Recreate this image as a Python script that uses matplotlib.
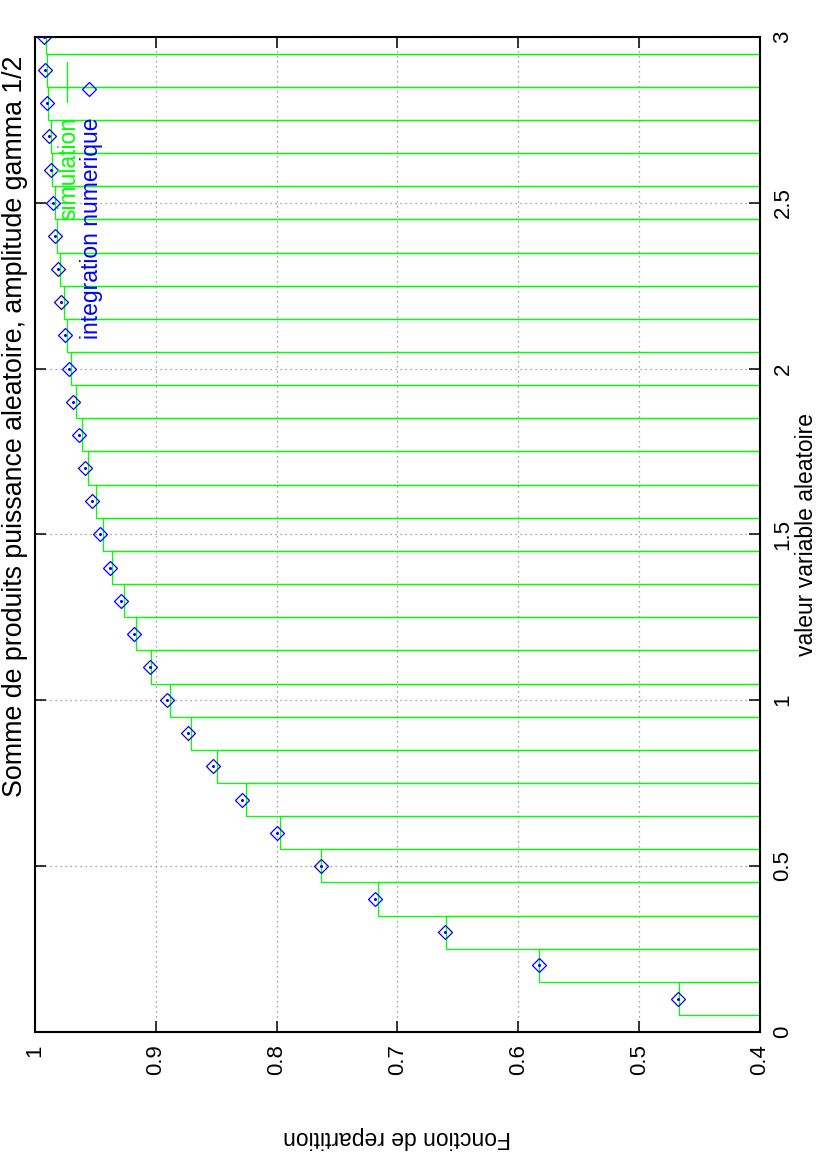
import matplotlib
matplotlib.use("Agg")
import matplotlib.pyplot as plt
import numpy as np

# valeurs de la variable (centres des boites)
x_vals = [0.1, 0.2, 0.3, 0.4, 0.5, 0.6, 0.7, 0.8, 0.9, 1.0,
          1.1, 1.2, 1.3, 1.4, 1.5, 1.6, 1.7, 1.8, 1.9, 2.0,
          2.1, 2.2, 2.3, 2.4, 2.5, 2.6, 2.7, 2.8, 2.9, 3.0]

# fonction de repartition simulee (boites)
simulation = [0.467, 0.5825, 0.660, 0.7163, 0.763, 0.7975, 0.8256, 0.8496, 0.8706, 0.8885,
              0.9042, 0.9161, 0.9263, 0.936, 0.9434, 0.9498, 0.9564, 0.9608, 0.966, 0.970,
              0.9738, 0.9762, 0.9796, 0.9815, 0.9837, 0.9857, 0.987, 0.989, 0.9898, 0.9909]

# integration numerique (losanges)
integration = [0.468, 0.583, 0.661, 0.7185, 0.763, 0.7997, 0.829, 0.853, 0.8736, 0.891,
               0.9044, 0.9178, 0.9288, 0.9379, 0.946, 0.9526, 0.9583, 0.9638, 0.9683, 0.9721,
               0.9754, 0.9785, 0.981, 0.9837, 0.9854, 0.987, 0.9884, 0.990, 0.9917, 0.9925]

x_ticks = [0, 0.5, 1, 1.5, 2, 2.5, 3]
x_ticklabels = ["0", "0.5", "1", "1.5", "2", "2.5", "3"]
f_ticks = [1, 0.9, 0.8, 0.7, 0.6, 0.5, 0.4]
f_ticklabels = ["1", "0.9", "0.8", "0.7", "0.6", "0.5", "0.4"]

GREEN = "#00ff00"
BLUE = "#0000ff"
FS = 16

plt.rcParams['font.family'] = ['Liberation Sans', 'DejaVu Sans']

fig = plt.figure(figsize=(8.17, 11.68), dpi=100)
# page gnuplot tournee de 90 degres : F en horizontal (inverse), x en vertical
ax = fig.add_axes([0.0428, 0.1167, 0.8874, 0.8516])

base = 0.4
ax.barh(x_vals, np.array(simulation) - base, left=base, height=0.1,
        fill=False, edgecolor=GREEN, linewidth=0.9, zorder=2)
ax.plot(integration, x_vals, linestyle="none", marker="D", markersize=6.8,
        markerfacecolor="none", markeredgecolor=BLUE, markeredgewidth=0.9, zorder=3)
ax.plot(integration, x_vals, linestyle="none", marker="o", markersize=1.2,
        color=BLUE, zorder=3)

ax.set_xlim(1, 0.4)
ax.set_ylim(0, 3)

ax.set_xticks(f_ticks)
ax.set_xticklabels(f_ticklabels, rotation=90, fontsize=FS)
ax.set_yticks(x_ticks)
ax.set_yticklabels(x_ticklabels, rotation=90, va="center", fontsize=FS)
ax.yaxis.tick_right()
ax.tick_params(direction="in", length=8, width=1.1, top=True, bottom=True,
               left=True, right=True, pad=9)

ax.grid(True, linestyle=(0, (1, 3)), color="#888888", linewidth=0.9, zorder=0)
ax.set_axisbelow(True)
for s in ax.spines.values():
    s.set_linewidth(1.5)

ax.yaxis.set_label_position("right")
ax.set_ylabel("valeur variable aleatoire", rotation=90, fontsize=16.5, labelpad=1)
ax.set_xlabel("Fonction de repartition", rotation=180, fontsize=16.5, labelpad=37)

fig.text(0.018, 0.635, "Somme de produits puissance aleatoire, amplitude gamma 1/2",
         rotation=90, ha="center", va="center", fontsize=19.3)

# legende dessinee a la main (tournee elle aussi)
ax.plot([0.0437, 0.0437], [0.935, 0.975], color=GREEN, linewidth=0.9,
        transform=ax.transAxes, clip_on=False)
ax.plot([0.0749], [0.9477], marker="D", markersize=6.8, markerfacecolor="none",
        markeredgecolor=BLUE, markeredgewidth=0.9, transform=ax.transAxes)
ax.text(0.0462, 0.9195, "simulation", color=GREEN, rotation=90, ha="center",
        va="top", fontsize=16.5, transform=ax.transAxes)
ax.text(0.0779, 0.9195, "integration numerique", color=BLUE, rotation=90, ha="center",
        va="top", fontsize=16.5, transform=ax.transAxes)

fig.savefig("out.png", dpi=100)
